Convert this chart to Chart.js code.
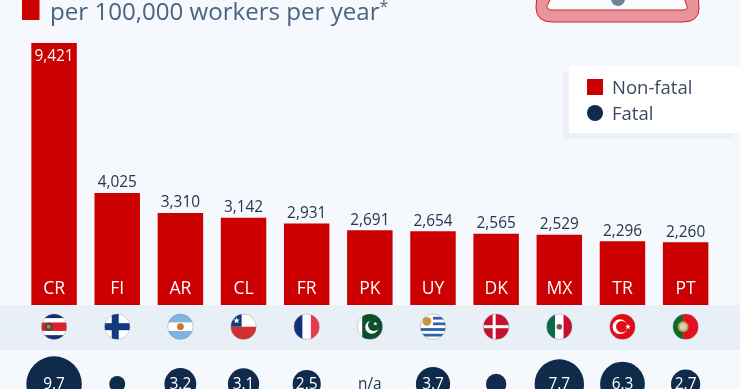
<!DOCTYPE html>
<html lang="en">
	<head>
		<meta charset="UTF-8" />
		<title>Workplace accidents per 100,000 workers</title>
		<style>
			html, body { margin: 0; padding: 0; background: #f5f8fc; overflow: hidden; }
			.box { position: relative; width: 740px; height: 389px; font-family: "Open Sans", sans-serif; }
			canvas { position: absolute; left: 0; top: 0; }
			.title { position: absolute; left: 50px; top: -7px; font-size: 24.1px; line-height: 35px; color: #4a6380; white-space: nowrap; }
			.title sup { font-size: 16px; line-height: 0; position: relative; top: 1px; vertical-align: super; }
			.legend { position: absolute; left: 569px; top: 66px; width: 171px; height: 67px; background: #fff; box-shadow: -6px 6px 0 #eef2f8; font-size: 18.5px; color: #3b4a63; }
			.legend div { position: absolute; left: 43px; white-space: nowrap; line-height: 24px; }
			.legend i { position: absolute; left: -25px; top: 4px; width: 16px; height: 16px; }
		</style>
	</head>
	<body>
		<div class="box">
			<canvas id="myChart" width="740" height="389"></canvas>
			<div class="title">per 100,000 workers per year<sup>*</sup></div>
			<div class="legend">
				<div style="top: 9px"><i style="background: #cc0000"></i>Non-fatal</div>
				<div style="top: 35px"><i style="background: #0f2a4a; border-radius: 50%"></i>Fatal</div>
			</div>
		</div>
		<script src="https://cdn.jsdelivr.net/npm/chart.js"></script>
		<script>
			const categories = ["CR", "FI", "AR", "CL", "FR", "PK", "UY", "DK", "MX", "TR", "PT"];
			const nonFatal = [9421, 4025, 3310, 3142, 2931, 2691, 2654, 2565, 2529, 2296, 2260];
			// FI and DK have no printed value
			const fatal = [9.7, 0.8, 3.2, 3.1, 2.5, null, 3.7, 1.3, 7.7, 6.3, 2.7];
			const fatalLabels = ["9.7", "", "3.2", "3.1", "2.5", "n/a", "3.7", "", "7.7", "6.3", "2.7"];

			const RED = "#cc0000";
			const NAVY = "#0f2a4a";
			const FONT = '"Open Sans", sans-serif';
			const fatalRow = 0; // the bubbles sit on one row of the hidden yFatal axis

			function stripesH(c, r, cols, weights) {
				const total = weights.reduce((a, b) => a + b, 0);
				let y = -r;
				cols.forEach((col, i) => {
					const h = (2 * r * weights[i]) / total;
					c.fillStyle = col;
					c.fillRect(-r, y, 2 * r, h + 0.3);
					y += h;
				});
			}
			function stripesV(c, r, cols, weights) {
				const total = weights.reduce((a, b) => a + b, 0);
				let x = -r;
				cols.forEach((col, i) => {
					const w = (2 * r * weights[i]) / total;
					c.fillStyle = col;
					c.fillRect(x, -r, w + 0.3, 2 * r);
					x += w;
				});
			}
			function dot(c, x, y, r, col) {
				c.fillStyle = col;
				c.beginPath();
				c.arc(x, y, r, 0, Math.PI * 2);
				c.fill();
			}
			function star(c, x, y, r, col) {
				c.fillStyle = col;
				c.beginPath();
				for (let i = 0; i < 10; i++) {
					const a = -Math.PI / 2 + (i * Math.PI) / 5;
					const d = i % 2 ? r * 0.42 : r;
					c.lineTo(x + d * Math.cos(a), y + d * Math.sin(a));
				}
				c.closePath();
				c.fill();
			}
			const flags = {
				CR: (c, r) => {
					stripesH(c, r, ["#12307a", "#fff", "#d8232f", "#fff", "#12307a"], [1, 1, 2, 1, 1]);
					dot(c, -r * 0.42, 0, 4, "#4a4a3a");
					dot(c, -r * 0.42, 0, 2, "#9a8a4a");
				},
				FI: (c, r) => {
					c.fillStyle = "#fff";
					c.fillRect(-r, -r, 2 * r, 2 * r);
					c.fillStyle = "#123a80";
					c.fillRect(-r, -3.5, 2 * r, 7);
					c.fillRect(-5.5, -r, 7, 2 * r);
				},
				AR: (c, r) => {
					stripesH(c, r, ["#7fb3e0", "#fff", "#7fb3e0"], [1, 1, 1]);
					dot(c, 0, 0, 3.4, "#c9792a");
				},
				CL: (c, r) => {
					stripesH(c, r, ["#fff", "#d32f2f"], [1, 1]);
					c.fillStyle = "#123a80";
					c.fillRect(-r, -r, r * 0.85, r);
					star(c, -r * 0.55, -r * 0.48, 3.4, "#fff");
				},
				FR: (c, r) => stripesV(c, r, ["#12307a", "#fff", "#e8394a"], [1, 1, 1]),
				PK: (c, r) => {
					stripesV(c, r, ["#fff", "#0b4f2a"], [1, 4]);
					dot(c, 2, 0.5, 6.6, "#fff");
					dot(c, 4, -1.5, 5.8, "#0b4f2a");
					star(c, 5.5, -3, 2.3, "#fff");
				},
				UY: (c, r) => {
					stripesH(c, r, ["#fff", "#2f5fb0", "#fff", "#2f5fb0", "#fff", "#2f5fb0", "#fff", "#2f5fb0", "#fff"], [1, 1, 1, 1, 1, 1, 1, 1, 1]);
					c.fillStyle = "#fff";
					c.fillRect(-r, -r, r, r * 1.1);
					dot(c, -r * 0.48, -r * 0.42, 4.4, "#c9973a");
				},
				DK: (c, r) => {
					c.fillStyle = "#c8102e";
					c.fillRect(-r, -r, 2 * r, 2 * r);
					c.fillStyle = "#fff";
					c.fillRect(-r, -1.5, 2 * r, 3);
					c.fillRect(-3.5, -r, 3, 2 * r);
				},
				MX: (c, r) => {
					stripesV(c, r, ["#0b6b45", "#fff", "#c8102e"], [1, 1, 1]);
					dot(c, 0, 0, 2.8, "#7a5a3a");
				},
				TR: (c, r) => {
					c.fillStyle = "#e30a17";
					c.fillRect(-r, -r, 2 * r, 2 * r);
					dot(c, -2.5, 0, 7.4, "#fff");
					dot(c, -0.6, 0, 5.8, "#e30a17");
					star(c, 5.5, 0, 3, "#fff");
				},
				PT: (c, r) => {
					stripesV(c, r, ["#0f6b2a", "#e3101e"], [2, 3]);
					dot(c, -r * 0.2, 0, 5.4, "#c9a63a");
					dot(c, -r * 0.2, 0, 3.4, "#c8d0e0");
				}
			};

			const decorPlugin = {
				id: "decor",
				beforeDraw(chart) {
					const c = chart.ctx;
					c.save();
					c.fillStyle = "#e9eff7";
					c.fillRect(0, 305, chart.width, 45);
					// red title marker
					c.fillStyle = RED;
					c.fillRect(22, 0, 17.5, 20);
					// cut off logo at the top
					c.beginPath();
					c.moveTo(537, -6);
					c.lineTo(536, 8);
					c.quadraticCurveTo(536.5, 22, 552, 22);
					c.lineTo(683, 22);
					c.quadraticCurveTo(699, 22, 699, 8);
					c.lineTo(698, -6);
					c.closePath();
					c.fillStyle = "#e8949a";
					c.fill();
					c.lineWidth = 1;
					c.strokeStyle = "#cc2229";
					c.stroke();
					c.beginPath();
					c.moveTo(551, -2);
					c.lineTo(547, 6);
					c.quadraticCurveTo(547, 10, 552, 10);
					c.lineTo(683, 10);
					c.quadraticCurveTo(688, 10, 687, 6);
					c.lineTo(684, -2);
					c.closePath();
					c.fillStyle = "#f8fafd";
					c.fill();
					c.strokeStyle = "#cc2229";
					c.stroke();
					dot(c, 618, -1, 7, "#6f8299");
					c.restore();
				},
				beforeDatasetsDraw(chart) {
					const c = chart.ctx;
					const r = 12.7;
					const fy = 326.7;
					categories.forEach((code, i) => {
						const x = chart.scales.x.getPixelForTick(i);
						c.save();
						c.translate(x, fy);
						c.beginPath();
						c.arc(0, 0, r, 0, Math.PI * 2);
						c.clip();
						flags[code](c, r);
						c.restore();
						c.save();
						c.strokeStyle = "rgba(120,130,145,0.55)";
						c.lineWidth = 0.7;
						c.beginPath();
						c.arc(x, fy, r, 0, Math.PI * 2);
						c.stroke();
						c.restore();
					});
				},
				afterDatasetsDraw(chart) {
					const c = chart.ctx;
					c.save();
					c.textAlign = "center";
					c.textBaseline = "middle";
					c.font = "15.4px " + FONT;
					chart.getDatasetMeta(0).data.forEach((bar, i) => {
						const text = nonFatal[i].toLocaleString("en-US");
						if (i === 0) {
							c.fillStyle = "#fff";
							c.fillText(text, bar.x, bar.y + 14);
						} else {
							c.fillStyle = "#26364f";
							c.fillText(text, bar.x, bar.y - 10);
						}
					});
					const yF = chart.scales.yFatal.getPixelForValue(fatalRow) + 1;
					categories.forEach((code, i) => {
						if (!fatalLabels[i]) return;
						c.fillStyle = fatal[i] === null ? "#26364f" : "#fff";
						c.fillText(fatalLabels[i], chart.scales.x.getPixelForTick(i), yF);
					});
					// country codes inside the bar foot
					c.font = "17.5px " + FONT;
					c.fillStyle = "#fff";
					categories.forEach((code, i) => {
						c.fillText(code, chart.scales.x.getPixelForTick(i), 289);
					});
					c.restore();
				}
			};

			new Chart(document.getElementById("myChart").getContext("2d"), {
				data: {
					labels: categories,
					datasets: [
						{
							type: "bar",
							label: "Non-fatal",
							data: nonFatal,
							backgroundColor: RED,
							borderWidth: 0,
							categoryPercentage: 0.72,
							barPercentage: 1,
							order: 2
						},
						{
							type: "bubble",
							label: "Fatal",
							yAxisID: "yFatal",
							data: categories.map((code, i) => ({
								x: code,
								y: fatal[i] === null ? null : fatalRow,
								r: fatal[i] === null ? 0 : 8.9 * Math.sqrt(fatal[i])
							})),
							backgroundColor: NAVY,
							borderWidth: 0,
							clip: false,
							order: 1
						}
					]
				},
				options: {
					responsive: false,
					animation: false,
					// chart area runs to the bottom edge so the bubble row stays inside it
					layout: { autoPadding: false, padding: { left: 22.5, right: 22.8, top: 43, bottom: 0 } },
					plugins: { legend: { display: false }, tooltip: { enabled: false } },
					scales: {
						x: { type: "category", display: false },
						// 0 falls at the bottom of the bars, the rest is room for the flags and bubbles
						y: { display: false, min: -3020, max: 9421 },
						yFatal: { display: false, min: -1, max: 68.2 }
					}
				},
				plugins: [decorPlugin]
			});
		</script>
	</body>
</html>
